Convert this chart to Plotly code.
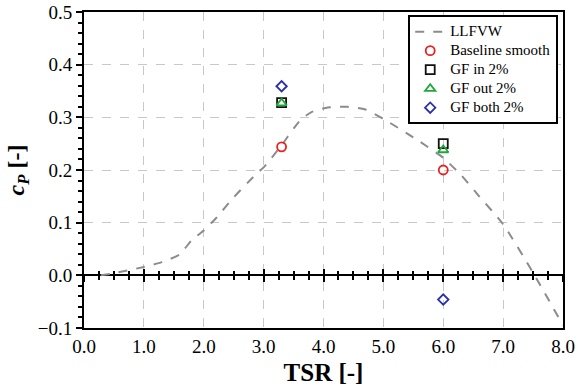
import plotly.graph_objects as go

# LLFVW curve
tsr_llfvw = [0.28, 0.5, 1.0, 1.3, 1.6, 1.8, 2.0, 2.2, 2.5, 2.9, 3.0, 3.3, 3.6, 3.8, 4.1, 4.4,
             4.7, 5.0, 5.5, 6.0, 6.3, 6.6, 7.0, 7.5, 8.0]
cp_llfvw = [0.0, 0.004, 0.016, 0.025, 0.04, 0.067, 0.085, 0.108, 0.148, 0.195, 0.205, 0.247,
            0.293, 0.31, 0.319, 0.32, 0.315, 0.297, 0.262, 0.223, 0.19, 0.15, 0.097, 0.005, -0.095]

tsr_pts = [3.3, 6.0]
cp_baseline = [0.244, 0.2]
cp_gf_in = [0.328, 0.25]
cp_gf_out = [0.327, 0.238]
cp_gf_both = [0.359, -0.046]

series_names = ["LLFVW", "Baseline smooth", "GF in 2%", "GF out 2%", "GF both 2%"]

x_ticks = [0, 1, 2, 3, 4, 5, 6, 7, 8]
y_ticks = [-0.1, 0.0, 0.1, 0.2, 0.3, 0.4, 0.5]

FONT = "Liberation Serif"


def leg(name):
    return '<span style="font-size:15px">' + name + "</span>"


fig = go.Figure()
fig.add_trace(go.Scatter(x=tsr_llfvw, y=cp_llfvw, mode="lines", name=leg(series_names[0]),
                         line=dict(color="#8c8c8c", width=2, dash="dash",
                                   shape="spline", smoothing=0.6)))
mk = dict(size=9, line=dict(width=1.8))
fig.add_trace(go.Scatter(x=tsr_pts, y=cp_baseline, mode="markers", name=leg(series_names[1]),
                         marker=dict(symbol="circle-open", color="#e8201e", **mk)))
fig.add_trace(go.Scatter(x=tsr_pts, y=cp_gf_in, mode="markers", name=leg(series_names[2]),
                         marker=dict(symbol="square-open", color="#111111", **mk)))
fig.add_trace(go.Scatter(x=tsr_pts, y=cp_gf_out, mode="markers", name=leg(series_names[3]),
                         marker=dict(symbol="triangle-up-open", color="#1fa83a", **mk)))
fig.add_trace(go.Scatter(x=tsr_pts, y=cp_gf_both, mode="markers", name=leg(series_names[4]),
                         marker=dict(symbol="diamond-open", color="#2b2fa8",
                                     size=8, line=dict(width=1.8))))

# invisible traces to host the tick axes along y = 0
for ax in ["x2", "x3"]:
    fig.add_trace(go.Scatter(x=tsr_llfvw, y=cp_llfvw, xaxis=ax, yaxis="y", mode="lines",
                             opacity=0, showlegend=False, hoverinfo="skip"))

pos0 = (0 - (-0.1)) / 0.6

fig.update_layout(
    width=581, height=391,
    margin=dict(l=84, r=18, t=12, b=63),
    paper_bgcolor="white", plot_bgcolor="white",
    font=dict(family=FONT, color="black", size=19),
    showlegend=True,
    legend=dict(x=0.99, y=0.99, xanchor="right", yanchor="top",
                bgcolor="white", bordercolor="black", borderwidth=2,
                font=dict(family=FONT, size=11.3), itemwidth=30,
                tracegroupgap=0),
    xaxis=dict(range=[0, 8], tickvals=x_ticks, tickformat=".1f", ticks="",
               showgrid=True, gridcolor="#c8c8c8", griddash="dash", gridwidth=1,
               showline=True, linecolor="black", linewidth=2, mirror=True,
               zeroline=False, automargin=False,
               title=dict(text="<b>TSR [-]</b>", font=dict(family=FONT, size=25), standoff=8),
               tickfont=dict(family=FONT, size=19)),
    xaxis2=dict(range=[0, 8], overlaying="x", anchor="free", position=pos0, side="bottom",
                showline=False, showgrid=False, zeroline=False, showticklabels=False,
                automargin=False,
                tickvals=x_ticks, ticks="outside", ticklen=6, tickwidth=1.5, tickcolor="black",
                minor=dict(dtick=0.25, ticks="outside", ticklen=4, tickwidth=1.5,
                           tickcolor="black", showgrid=False)),
    xaxis3=dict(range=[0, 8], overlaying="x", anchor="free", position=pos0, side="bottom",
                showline=False, showgrid=False, zeroline=False, showticklabels=False,
                automargin=False,
                tickvals=x_ticks, ticks="inside", ticklen=6, tickwidth=1.5, tickcolor="black",
                minor=dict(dtick=0.25, ticks="inside", ticklen=4, tickwidth=1.5,
                           tickcolor="black", showgrid=False)),
    yaxis=dict(range=[-0.1, 0.5], tickvals=y_ticks, tickformat=".1f",
               ticks="outside", ticklen=6, tickwidth=1.5, tickcolor="black",
               minor=dict(dtick=0.02, ticks="outside", ticklen=4, tickwidth=1.5,
                          tickcolor="black", showgrid=False),
               showgrid=True, gridcolor="#c8c8c8", griddash="dash", gridwidth=1,
               showline=True, linecolor="black", linewidth=2, mirror=True,
               zeroline=True, zerolinecolor="black", zerolinewidth=2, automargin=False,
               title=dict(text="<b><i>c<sub>P</sub></i> [-]</b>",
                          font=dict(family=FONT, size=24), standoff=6),
               tickfont=dict(family=FONT, size=19)),
)

fig.write_html("out.html")
